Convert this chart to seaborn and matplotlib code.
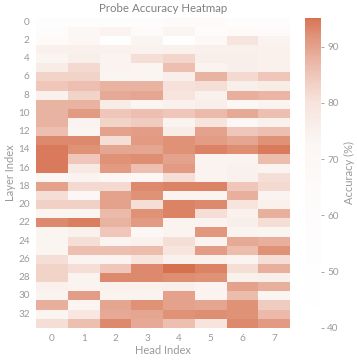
import numpy as np
import pandas as pd
import matplotlib
matplotlib.use("Agg")
import matplotlib.pyplot as plt
import seaborn as sns
from matplotlib.colors import LinearSegmentedColormap

heads = list(range(8))
layers = list(range(34))

# probe accuracy (%) per layer (rows) and head (columns)
layer_00 = [52, 55, 54, 53, 63, 64, 54, 52]
layer_01 = [60, 72, 74, 65, 73, 60, 66, 64]
layer_02 = [66, 72, 50, 73, 50, 70, 79.5, 74]
layer_03 = [75, 75.5, 75, 74.5, 75, 75.5, 75.5, 75]
layer_04 = [73, 76, 74, 81, 82.5, 76, 76, 75]
layer_05 = [77, 82, 74, 73, 86, 74, 76, 75]
layer_06 = [83, 83, 73, 73, 76, 88, 82, 85]
layer_07 = [85, 86, 88, 88, 80.5, 81, 76, 77]
layer_08 = [75, 83, 89, 89.5, 80, 75, 88.5, 87.5]
layer_09 = [88, 88, 77, 73, 75, 76, 72, 74]
layer_10 = [88, 91, 85, 86, 85, 87, 89, 86]
layer_11 = [88, 74, 83, 84, 74, 80, 72, 75]
layer_12 = [86, 73, 90, 90.5, 77, 90, 85, 86]
layer_13 = [93, 93, 81, 91, 92, 90.5, 89.5, 92]
layer_14 = [94.5, 92, 89.5, 89.5, 92, 93.5, 92.5, 94.5]
layer_15 = [94.5, 85, 92, 92.5, 90, 74, 74, 86.5]
layer_16 = [94.5, 78, 91, 86, 91, 74, 75, 74]
layer_17 = [72, 74, 72, 72, 81, 74, 75, 81]
layer_18 = [90, 82, 82, 93, 93.5, 93.5, 85, 82]
layer_19 = [81, 72, 90, 92, 74, 74, 88.5, 74]
layer_20 = [83.5, 83.5, 90, 81, 93.5, 93, 80, 75]
layer_21 = [73, 73, 87, 92, 93.5, 81, 75, 88.5]
layer_22 = [93, 94, 88, 91, 74, 74, 76, 81]
layer_23 = [73, 75, 85, 72, 74, 91.5, 74, 73]
layer_24 = [73, 81, 74, 75, 81, 74, 89, 88.5]
layer_25 = [73, 86, 86, 86.5, 80, 90.5, 86.5, 92]
layer_26 = [81, 74, 74, 80, 75, 75, 74, 81]
layer_27 = [83, 81, 85, 93, 95, 93.5, 81, 88.5]
layer_28 = [83, 74, 93, 93, 92.5, 92, 75, 76]
layer_29 = [75, 74, 75, 75, 76, 74, 90, 88.5]
layer_30 = [74, 90.5, 74, 74, 90, 74, 86.5, 73]
layer_31 = [88.5, 73, 89.5, 92, 90, 89.5, 92, 84]
layer_32 = [73, 79, 89, 89.5, 92, 92.5, 92, 87]
layer_33 = [81, 86, 93, 89, 86, 80, 93, 91]

rows = [layer_00, layer_01, layer_02, layer_03, layer_04, layer_05, layer_06,
        layer_07, layer_08, layer_09, layer_10, layer_11, layer_12, layer_13,
        layer_14, layer_15, layer_16, layer_17, layer_18, layer_19, layer_20,
        layer_21, layer_22, layer_23, layer_24, layer_25, layer_26, layer_27,
        layer_28, layer_29, layer_30, layer_31, layer_32, layer_33]

df = pd.DataFrame(rows, index=layers, columns=heads)

vmin, vmax = 40, 95.2
stops = [(40, "#ffffff"), (55, "#fefdfd"), (65, "#fdfaf9"), (72, "#fcf7f5"),
         (75, "#faf1ed"), (80, "#f6e4dd"), (83, "#f2d4c9"), (86, "#edc0b1"),
         (88, "#e9b3a2"), (90, "#e4a28d"), (92, "#e09479"), (93.5, "#dc8467"),
         (95, "#d87657"), (95.2, "#d6714f")]
cmap = LinearSegmentedColormap.from_list(
    "probe", [((v - vmin) / (vmax - vmin), c) for v, c in stops])

sns.set_style("white")
plt.rcParams['font.family'] = ['Lato', 'DejaVu Sans']
text_color = "#9a9a9a"

fig = plt.figure(figsize=(3.57, 3.61), dpi=100)
ax = fig.add_axes([36 / 357, 1 - 327.8 / 361, 254 / 357, 310.3 / 361])
cax = fig.add_axes([305 / 357, 1 - 327.8 / 361, 16 / 357, 310.3 / 361])

sns.heatmap(df, cmap=cmap, vmin=vmin, vmax=vmax, ax=ax, cbar_ax=cax,
            xticklabels=1, yticklabels=2,
            cbar_kws={'label': 'Accuracy (%)', 'ticks': [40, 50, 60, 70, 80, 90]})

ax.set_title("Probe Accuracy Heatmap", fontsize=8.3, color="#808080", pad=4)
ax.set_xlabel("Head Index", fontsize=8, color=text_color, labelpad=1.5)
ax.set_ylabel("Layer Index", fontsize=8, color=text_color, labelpad=1.5)
ax.tick_params(axis='both', labelsize=7.2, colors=text_color, length=2.5, width=0.6, pad=2)
ax.tick_params(axis='y', rotation=0)
for lbl in ax.get_xticklabels() + ax.get_yticklabels():
    lbl.set_color(text_color)

cbar = ax.collections[0].colorbar
cbar.outline.set_visible(False)
cbar.ax.tick_params(labelsize=7.2, colors=text_color, length=2.5, width=0.6, pad=2)
cbar.ax.yaxis.label.set_color(text_color)
cbar.ax.yaxis.label.set_size(8)

fig.savefig("out.png", dpi=100)
